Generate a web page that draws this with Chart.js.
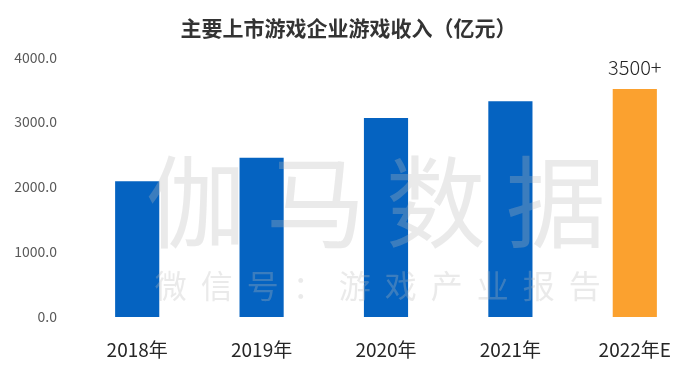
<!DOCTYPE html>
<html>
<head>
<meta charset="utf-8">
<script src="https://cdn.jsdelivr.net/npm/chart.js@4/dist/chart.umd.min.js"></script>
<style>
  html, body { margin: 0; padding: 0; background: #fff; }
  #wrap { width: 700px; height: 370px; position: relative; }
</style>
</head>
<body>
<div id="wrap"><canvas id="chart"></canvas></div>
<script>
// data
const years = ["2018年", "2019年", "2020年", "2021年", "2022年E"];
const revenue = [2090, 2450, 3065, 3320, 3510];
const barColors = ["#0563C1", "#0563C1", "#0563C1", "#0563C1", "#FBA12F"];
const valueLabels = ["", "", "", "", "3500+"];
const yTicks = [0, 1000, 2000, 3000, 4000];

const FONT = "'Noto Sans CJK SC', 'Noto Sans', sans-serif";

/* ---------- plugins ---------- */
// label on top of bars
const valueLabelPlugin = {
  id: "valueLabels",
  afterDatasetsDraw(chart) {
    const ctx = chart.ctx;
    const meta = chart.getDatasetMeta(0);
    ctx.save();
    ctx.font = "300 20px " + FONT;
    ctx.fillStyle = "#262626";
    ctx.textAlign = "center";
    ctx.textBaseline = "bottom";
    meta.data.forEach((bar, i) => {
      if (!valueLabels[i]) return;
      ctx.fillText(valueLabels[i], bar.x, bar.y - 12);
    });
    ctx.restore();
  }
};

// watermark over the plot
const watermarkPlugin = {
  id: "watermark",
  afterDatasetsDraw(chart) {
    const ctx = chart.ctx;
    const a = chart.chartArea;
    const cx = a.left + (a.right - a.left) * 0.49;
    ctx.save();
    ctx.fillStyle = "rgba(185,185,185,0.3)";
    ctx.textAlign = "center";
    ctx.textBaseline = "middle";
    ctx.font = "100px " + FONT;
    ctx.letterSpacing = "20px";
    ctx.fillText("伽马数据", cx + 6, 202);
    ctx.font = "32px " + FONT;
    ctx.letterSpacing = "14px";
    ctx.fillText("微信号：游戏产业报告", cx + 5, 286);
    ctx.restore();
  }
};

new Chart(document.getElementById("chart"), {
  type: "bar",
  data: {
    labels: years,
    datasets: [{
      data: revenue,
      backgroundColor: barColors,
      borderWidth: 0,
      categoryPercentage: 1,
      barPercentage: 0.355
    }]
  },
  options: {
    responsive: true,
    maintainAspectRatio: false,
    animation: false,
    layout: { padding: { left: 0, right: 3, top: 0, bottom: 3 } },
    plugins: {
      legend: { display: false },
      tooltip: { enabled: false },
      title: {
        display: true,
        text: "主要上市游戏企业游戏收入（亿元）",
        color: "#333333",
        font: { family: FONT, size: 21, weight: "bold" },
        padding: { top: 15, bottom: 17 }
      }
    },
    scales: {
      x: {
        grid: { display: false, drawTicks: false },
        border: { display: false },
        afterFit: (axis) => { axis.height = 50; },
        ticks: {
          color: "#262626",
          font: { family: FONT, size: 19 },
          padding: 21
        }
      },
      y: {
        min: 0,
        max: 4000,
        afterBuildTicks: (axis) => { axis.ticks = yTicks.map(v => ({ value: v })); },
        afterFit: (axis) => { axis.width = 75; },
        grid: { display: false, drawTicks: false },
        border: { display: false },
        ticks: {
          color: "#595959",
          font: { family: FONT, size: 14 },
          padding: 18,
          callback: (v) => Number(v).toFixed(1)
        }
      }
    }
  },
  plugins: [valueLabelPlugin, watermarkPlugin]
});
</script>
</body>
</html>
